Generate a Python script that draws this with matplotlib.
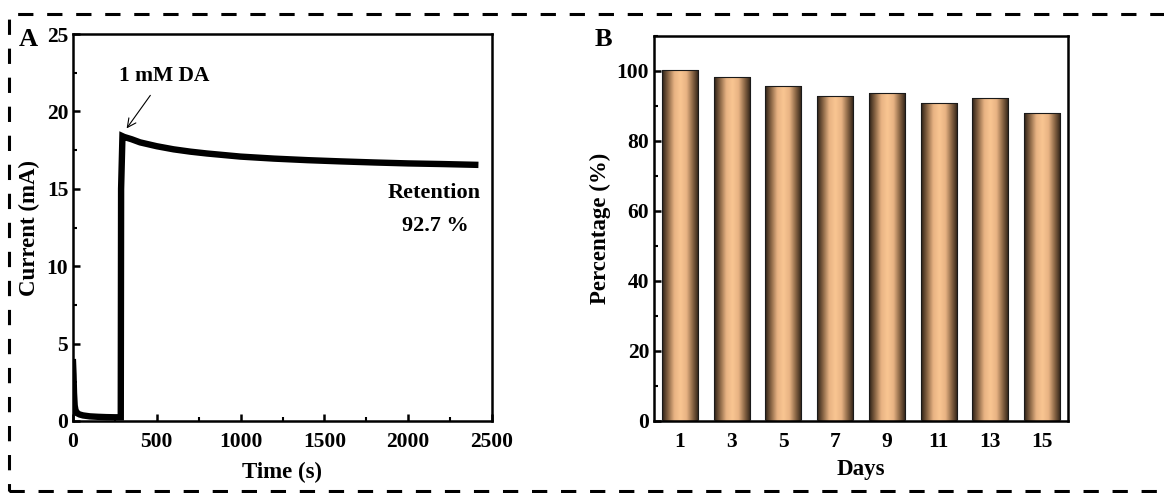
import matplotlib
matplotlib.use("Agg")
import matplotlib.pyplot as plt
import numpy as np
from matplotlib.colors import LinearSegmentedColormap
from matplotlib.patches import Rectangle
from matplotlib.ticker import MultipleLocator

plt.rcParams['font.family'] = ['Liberation Serif', 'DejaVu Serif']
plt.rcParams['font.weight'] = 'bold'
plt.rcParams['axes.labelweight'] = 'bold'

# panel A: amperometric response
time_s = [0, 3, 6, 10, 15, 25, 40, 60, 100, 150, 200, 250, 285, 287, 295, 305,
          350, 400, 500, 600, 700, 800, 1000, 1200, 1400, 1600, 1800, 2000, 2200, 2400]
current_mA = [3.8, 3.0, 1.8, 1.0, 0.7, 0.5, 0.42, 0.36, 0.3, 0.27, 0.25, 0.24, 0.24, 15.0, 18.4, 18.35,
              18.2, 18.0, 17.75, 17.55, 17.4, 17.28, 17.08, 16.95, 16.85, 16.77, 16.7, 16.64, 16.6, 16.55]

# panel B: stability over days
days = [1, 3, 5, 7, 9, 11, 13, 15]
percentage = [100.2, 98.3, 95.8, 92.9, 93.8, 91.0, 92.3, 88.1]

fig = plt.figure(figsize=(11.64, 4.93), dpi=100)

# dashed frame round the whole figure
frame = Rectangle((0.008, 0.004), 1.1, 0.968, transform=fig.transFigure, fill=False,
                  edgecolor='black', linewidth=2.2, linestyle=(0, (5, 4.5)), clip_on=False)
fig.patches.append(frame)

W, H = 1164, 493
axA = fig.add_axes([73 / W, 1 - 421 / H, (492 - 73) / W, (421 - 34) / H])
axB = fig.add_axes([654 / W, 1 - 421 / H, (1068 - 654) / W, (421 - 36) / H])

# ---- A
axA.plot(time_s, current_mA, color='black', linewidth=4.6, solid_joinstyle='miter')
axA.set_xlim(0, 2500)
axA.set_ylim(0, 25)
axA.xaxis.set_major_locator(MultipleLocator(500))
axA.xaxis.set_minor_locator(MultipleLocator(250))
axA.yaxis.set_major_locator(MultipleLocator(5))
axA.yaxis.set_minor_locator(MultipleLocator(2.5))
axA.set_xlabel('Time (s)', fontsize=16.5, labelpad=7)
axA.set_ylabel('Current (mA)', fontsize=16.5, labelpad=5)
axA.annotate('1 mM DA', xy=(320, 18.9), xytext=(545, 22.3), fontsize=15.5, fontweight='bold',
             ha='center', va='center',
             arrowprops=dict(arrowstyle='->', color='black', lw=0.8, shrinkA=6, shrinkB=0))
axA.text(2155, 14.7, 'Retention', fontsize=16, fontweight='bold', ha='center', va='center')
axA.text(2160, 12.6, '92.7 %', fontsize=16, fontweight='bold', ha='center', va='center')
fig.text(28 / W, 1 - 40 / H, 'A', fontsize=19, fontweight='bold', ha='center', va='center')

# ---- B
cmap = LinearSegmentedColormap.from_list('barshade', ['#2a1e14', '#8a6645', '#e8b383',
                                                      '#f9c692', '#e8b383', '#8a6645', '#2a1e14'])
grad = np.linspace(0, 1, 256).reshape(1, -1)
bars = axB.bar(days, percentage, width=1.4, facecolor='none', edgecolor='#1a1a1a',
               linewidth=0.8, zorder=3)
for b in bars:
    x0, w, h = b.get_x(), b.get_width(), b.get_height()
    im = axB.imshow(grad, extent=[x0, x0 + w, 0, h], aspect='auto', cmap=cmap,
                    interpolation='bicubic', zorder=2)
    im.set_clip_path(b)
axB.set_xlim(0, 16)
axB.set_ylim(0, 110)
axB.set_xticks(days)
axB.yaxis.set_major_locator(MultipleLocator(20))
axB.yaxis.set_minor_locator(MultipleLocator(10))
axB.set_xlabel('Days', fontsize=16.5, labelpad=5)
axB.set_ylabel('Percentage (%)', fontsize=16.5, labelpad=4)
fig.text(603 / W, 1 - 40 / H, 'B', fontsize=19, fontweight='bold', ha='center', va='center')

for ax in (axA, axB):
    for s in ax.spines.values():
        s.set_linewidth(1.8)
    ax.tick_params(which='major', direction='in', length=5, width=1.8, labelsize=15.5,
                   top=False, right=False)
    ax.tick_params(which='minor', direction='in', length=3, width=1.5, top=False, right=False)
    ax.tick_params(axis='x', which='major', pad=8)
    for lab in ax.get_xticklabels() + ax.get_yticklabels():
        lab.set_fontweight('bold')
axB.tick_params(axis='x', which='both', length=0, pad=8)

fig.savefig('out.png', dpi=100)
